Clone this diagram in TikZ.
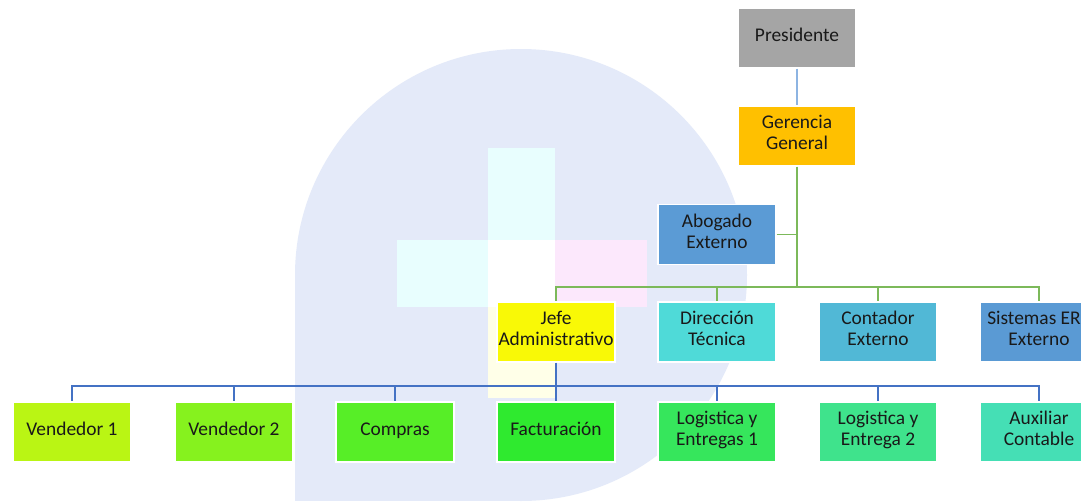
\documentclass[tikz,border=0pt]{standalone}
\usepackage{fontspec}
\setmainfont{Carlito}
\definecolor{bgblue}{HTML}{E4EAF9}
\definecolor{crcyan}{HTML}{E8FEFE}
\definecolor{crpink}{HTML}{FCE8FC}
\definecolor{cryell}{HTML}{FFFFE8}
\definecolor{cpres}{HTML}{A5A5A5}
\definecolor{cger}{HTML}{FFC000}
\definecolor{cabo}{HTML}{5B9BD5}
\definecolor{cjefe}{HTML}{F9F906}
\definecolor{cdir}{HTML}{4FDAD8}
\definecolor{ccont}{HTML}{51B8D6}
\definecolor{csist}{HTML}{5A9AD4}
\definecolor{cvA}{HTML}{BAF514}
\definecolor{cvB}{HTML}{86F21E}
\definecolor{ccomp}{HTML}{57EE27}
\definecolor{cfact}{HTML}{2FEA2F}
\definecolor{clogA}{HTML}{36E65C}
\definecolor{clogB}{HTML}{3FE38C}
\definecolor{caux}{HTML}{45DFB5}
\definecolor{lgreen}{HTML}{7CB95A}
\definecolor{lblue}{HTML}{4472C4}
\definecolor{lpale}{HTML}{8DB4E2}
\begin{document}
\begin{tikzpicture}[x=1pt,y=-1pt,
  box/.style={draw=white, line width=1.2pt, minimum width=118pt, minimum height=60pt,
    inner sep=0pt, align=center, font=\fontsize{19.4}{21}\selectfont, text=black!90,
    execute at end node={\vrule width 0pt depth 6.5pt}},
  gline/.style={draw=lgreen, line width=1.6pt},
  bline/.style={draw=lblue, line width=1.6pt},
  pline/.style={draw=lpale, line width=1.4pt}]
\clip (0,0) rectangle (1081,501);
\fill[white] (0,0) rectangle (1081,501);
% watermark
\fill[bgblue] (521,275) circle[radius=226];
\fill[bgblue] (295,275) rectangle (521,501);
\fill[crcyan] (488,148) rectangle (555,240);
\fill[crcyan] (397,240) rectangle (488,307);
\fill[white] (488,240) rectangle (555,307);
\fill[crpink] (555,240) rectangle (647,307);
\fill[cryell] (488,307) rectangle (555,398);
% nodes
\node[box, fill=cpres] (pres) at (797,38) {Presidente};
\node[box, fill=cger] (ger) at (797,136) {Gerencia\\General};
\node[box, fill=cabo] (abo) at (717,234.5) {Abogado\\Externo};
\node[box, fill=cjefe] (jefe) at (556,332) {Jefe\\Administrativo};
\node[box, fill=cdir] (dir) at (717,332) {Dirección\\Técnica};
\node[box, fill=ccont] (cont) at (878,332) {Contador\\Externo};
\node[box, fill=csist] (sist) at (1039,332) {Sistemas ER\phantom{P}\\Externo};
\node[box, fill=cvA] (vA) at (72,432) {Vendedor 1};
\node[box, fill=cvB] (vB) at (234,432) {Vendedor 2};
\node[box, fill=ccomp] (comp) at (395,432) {Compras};
\node[box, fill=cfact] (fact) at (556,432) {Facturación};
\node[box, fill=clogA] (logA) at (717,432) {Logistica y\\Entregas 1};
\node[box, fill=clogB] (logB) at (878,432) {Logistica y\\Entrega 2};
\node[box, fill=caux] (aux) at (1039,432) {Auxiliar\\Contable};
% connectors
\coordinate (gbus) at (797,287);
\coordinate (bbus) at (556,386);
\draw[pline] (pres) -- (ger);
\draw[gline] (ger.south) -- (gbus);
\draw[gline] (abo.east) -- (abo.east -| gbus);
\foreach \c in {jefe,dir,cont,sist} \draw[gline] (gbus) -| (\c.north);
\draw[bline] (jefe.south) -- (bbus);
\foreach \c in {vA,vB,comp,fact,logA,logB,aux} \draw[bline] (bbus) -| (\c.north);
\end{tikzpicture}
\end{document}
